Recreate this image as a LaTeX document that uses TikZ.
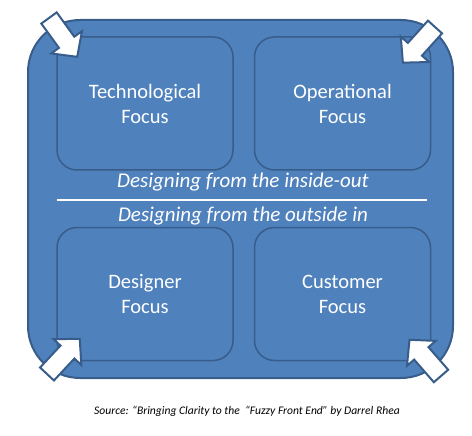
\documentclass[tikz,border=0pt]{standalone}
\usepackage{fontspec}
\setmainfont{Carlito}
\usepackage{tikz}
\usetikzlibrary{positioning}
\definecolor{qfill}{HTML}{4F81BD}
\definecolor{qedge}{HTML}{385D8A}
\tikzset{
  qframe/.style={rectangle, rounded corners=52pt, fill=qfill, draw=qedge,
                 line width=2pt, minimum width=425pt, minimum height=358pt},
  qbox/.style={rectangle, rounded corners=20pt, fill=qfill, draw=qedge,
               line width=1.5pt, minimum width=176pt, minimum height=133pt,
               align=center, text=white, font=\fontsize{20.5}{25}\selectfont},
  qhead/.style={text=white, font=\fontsize{21}{24}\selectfont\itshape},
  qsrc/.style={text=black, font=\fontsize{11.6}{14}\selectfont\itshape},
  qarrow/.style={fill=white, draw=qedge, line width=2pt, line join=miter},
  cornerarrow/.pic={
    \draw[qarrow] (0,-9.5) -- (30,-9.5) -- (30,-19) -- (48,0) -- (30,19)
                  -- (30,9.5) -- (0,9.5) -- cycle;
  },
}
\begin{document}
\begin{tikzpicture}[x=1pt,y=-1pt]
  \useasboundingbox (0,0) rectangle (472,436);

  \node[qframe] (frame) at (240.5,199) {};

  \node[qbox] (tech)   at (145,103.5)   {Technological\\Focus};
  \node[qbox] (oper)   at (342.5,103.5) {Operational\\Focus};
  \node[qbox] (design) at (145,294)     {Designer\\Focus};
  \node[qbox] (cust)   at (342.5,294)   {Customer\\Focus};

  \node[qhead] (inout) at (243,182) {Designing from the inside-out};
  \node[qhead] (outin) at (243,216) {Designing from the outside in};
  \coordinate (divl) at (57,200);
  \coordinate (divr) at (427,200);
  \draw[white, line width=2pt] (divl) -- (divr);

  % corner arrows
  \pic[rotate=-54]  at (49,18)   {cornerarrow};
  \pic[rotate=-132] at (435,27)  {cornerarrow};
  \pic[rotate=47]   at (47,374)  {cornerarrow};
  \pic[rotate=131]  at (441,376) {cornerarrow};

  \node[qsrc] (src) at (247,411)
    {Source: “Bringing Clarity to the \ “Fuzzy Front End” by Darrel Rhea};

\end{tikzpicture}
\end{document}
